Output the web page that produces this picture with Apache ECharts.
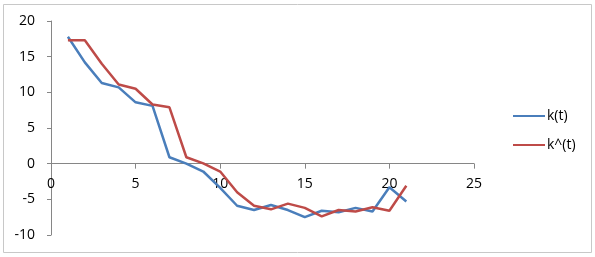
<!DOCTYPE html>
<html><head><meta charset="utf-8">
<script src="https://cdn.jsdelivr.net/npm/echarts@6/dist/echarts.min.js"></script>
<style>html,body{margin:0;padding:0;background:#fff}#c{width:595px;height:257px}</style>
</head><body><div id="c"></div>
<script>
var tValues = [1,2,3,4,5,6,7,8,9,10,11,12,13,14,15,16,17,18,19,20,21];
var kValues = [17.8,14.2,11.3,10.7,8.6,8.1,0.9,0.0,-1.1,-3.4,-5.9,-6.5,-5.8,-6.5,-7.5,-6.6,-6.8,-6.2,-6.7,-3.3,-5.3];
var kHatValues = [17.3,17.3,14.0,11.1,10.5,8.3,7.9,0.9,0.05,-1.1,-4.0,-5.9,-6.4,-5.6,-6.2,-7.4,-6.5,-6.7,-6.1,-6.6,-3.1];
var seriesNames = ['k(t)', 'k^(t)'];
var xTicks = {min:0, max:25, interval:5};
var yTicks = {min:-10, max:20, interval:5};

function pairs(xs, ys){ return xs.map(function(x,i){ return [x, ys[i]]; }); }

var H = 257, gridTop = 21, gridBottom = 22;
var gridH = H - gridTop - gridBottom;
// place the x axis where y = 0 (offset from the grid bottom, derived from the y scale)
var zeroOffset = -gridH * (0 - yTicks.min) / (yTicks.max - yTicks.min);

var chart = echarts.init(document.getElementById('c'), null, {renderer:'canvas'});
var font = 'Open Sans';
chart.setOption({
  animation:false,
  backgroundColor:'#fff',
  graphic:[{type:'rect', shape:{x:3.5,y:4.5,width:588,height:248}, style:{fill:'none', stroke:'#c8c8c8', lineWidth:1}, silent:true}],
  grid:{left:51, right:121, top:gridTop, bottom:gridBottom, containLabel:false, outerBoundsMode:'none'},
  xAxis:{type:'value', min:xTicks.min, max:xTicks.max, interval:xTicks.interval,
    position:'bottom', offset:zeroOffset,
    axisLine:{show:true, onZero:false, lineStyle:{color:'#868686', width:1}},
    axisTick:{show:true, inside:false, length:5, lineStyle:{color:'#868686'}},
    axisLabel:{color:'#000', fontSize:14, fontFamily:font, margin:13},
    splitLine:{show:false}},
  yAxis:{type:'value', min:yTicks.min, max:yTicks.max, interval:yTicks.interval,
    axisLine:{show:true, onZero:false, lineStyle:{color:'#868686', width:1}},
    axisTick:{show:true, inside:false, length:4, lineStyle:{color:'#868686'}},
    axisLabel:{color:'#000', fontSize:14, fontFamily:font, margin:16},
    splitLine:{show:false}},
  legend:{orient:'vertical', left:508, top:104, icon:'rect', itemWidth:32, itemHeight:2, itemGap:15,
    textStyle:{color:'#000', fontSize:14, fontFamily:font, padding:[0,0,0,-3]},
    data:seriesNames},
  series:[
    {name:seriesNames[0], type:'line', data:pairs(tValues,kValues), symbol:'none', lineStyle:{color:'#4a7ebb', width:2.5}, itemStyle:{color:'#4a7ebb'}},
    {name:seriesNames[1], type:'line', data:pairs(tValues,kHatValues), symbol:'none', lineStyle:{color:'#be4b48', width:2.5}, itemStyle:{color:'#be4b48'}}
  ]
});
</script></body></html>
